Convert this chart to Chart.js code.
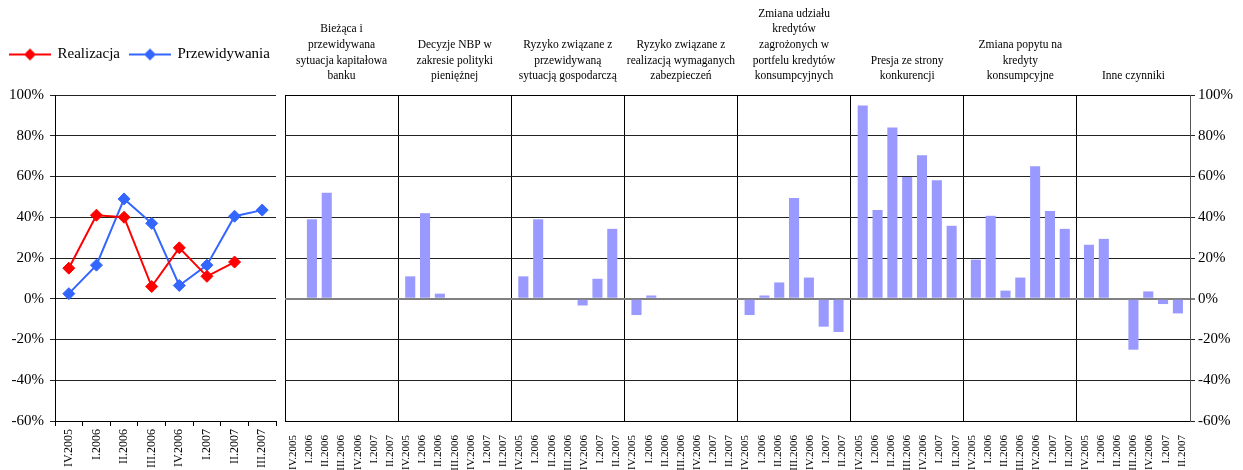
<!DOCTYPE html>
<html lang="pl">
<head>
<meta charset="utf-8">
<script src="https://cdn.jsdelivr.net/npm/chart.js@4.4.0/dist/chart.umd.min.js"></script>
<style>
  body { margin: 0; background: #fff; }
  #wrap { position: relative; width: 1243px; height: 470px; }
  canvas { position: absolute; top: 0; }
  #lineChart { left: 0; }
  #barChart { left: 283px; }
</style>
</head>
<body>
<div id="wrap">
  <canvas id="lineChart" width="283" height="470"></canvas>
  <canvas id="barChart" width="960" height="470"></canvas>
</div>
<script>
const serif = "'Liberation Serif', 'DejaVu Serif', serif";

// quarters of the survey
const quarters = ['IV.2005', 'I.2006', 'II.2006', 'III.2006', 'IV.2006', 'I.2007', 'II.2007', 'III.2007'];

// left chart - realised vs expected (%)
const realizacja = [15, 41, 40, 6, 25, 11, 18, null];
const przewidywania = [2.5, 16.5, 49, 37, 6.5, 16.5, 40.5, 43.5];

// right chart - factors
const factors = [
    ['Bieżąca i', 'przewidywana', 'sytuacja kapitałowa', 'banku'],
    ['Decyzje NBP w', 'zakresie polityki', 'pieniężnej'],
    ['Ryzyko związane z', 'przewidywaną', 'sytuacją gospodarczą'],
    ['Ryzyko związane z', 'realizacją wymaganych', 'zabezpieczeń'],
    ['Zmiana udziału', 'kredytów', 'zagrożonych w', 'portfelu kredytów', 'konsumpcyjnych'],
    ['Presja ze strony', 'konkurencji'],
    ['Zmiana popytu na', 'kredyty', 'konsumpcyjne'],
    ['Inne czynniki']
];
const barQuarters = quarters.slice(0, 7);

const kapital = [0, 39, 52, 0, 0, 0, 0];
const nbp = [11, 42, 2.5, 0, 0, 0, 0];
const ryzykoGosp = [11, 39, 0, 0, -3.3, 9.8, 34.3];
const ryzykoZab = [-8, 1.6, 0, 0, 0, 0, 0];
const udzialZagrozonych = [-8, 1.6, 8, 49.4, 10.4, -13.7, -16.3];
const konkurencja = [94.8, 43.6, 84, 59.7, 70.4, 58.2, 35.8];
const popyt = [19.2, 40.7, 4, 10.4, 65, 43.1, 34.3];
const inne = [26.5, 29.4, 0, -25, 3.6, -2.6, -7.2];

const factorValues = [kapital, nbp, ryzykoGosp, ryzykoZab, udzialZagrozonych, konkurencja, popyt, inne];

const yMin = -60, yMax = 100, yStep = 20;

function pct(v) { return v + '%'; }

// legend icon: line with a diamond in the middle
function legendIcon(color) {
    const c = document.createElement('canvas');
    c.width = 42; c.height = 14;
    const g = c.getContext('2d');
    g.strokeStyle = color; g.lineWidth = 2;
    g.beginPath(); g.moveTo(0, 7); g.lineTo(42, 7); g.stroke();
    g.fillStyle = color;
    g.beginPath(); g.moveTo(21, 1); g.lineTo(27, 7); g.lineTo(21, 13); g.lineTo(15, 7); g.closePath(); g.fill();
    return c;
}

// keep the legend on one row and leave room above the plot
const legendSpace = {
    id: 'legendSpace',
    beforeInit(chart) {
        const fit = chart.legend.fit;
        chart.legend.fit = function () {
            this.maxWidth = 300;
            fit.call(this);
            this.height = 58;
        };
    },
    afterLayout(chart) {
        chart.legend.right = 300;
    }
};

new Chart(document.getElementById('lineChart'), {
    type: 'line',
    data: {
        labels: quarters,
        datasets: [
            {
                label: 'Realizacja',
                data: realizacja,
                borderColor: '#ff0000',
                backgroundColor: '#ff0000',
                borderWidth: 2,
                pointStyle: 'rectRot',
                pointRadius: 6,
                pointBorderWidth: 1,
                tension: 0
            },
            {
                label: 'Przewidywania',
                data: przewidywania,
                borderColor: '#3366ff',
                backgroundColor: '#3366ff',
                borderWidth: 2,
                pointStyle: 'rectRot',
                pointRadius: 6,
                pointBorderWidth: 1,
                tension: 0
            }
        ]
    },
    options: {
        responsive: false,
        animation: false,
        layout: { padding: { top: 37, right: 7, left: 0, bottom: 0 } },
        plugins: {
            legend: {
                position: 'top',
                align: 'start',
                labels: {
                    usePointStyle: true,
                    pointStyleWidth: 40,
                    padding: 10,
                    color: '#000',
                    font: { family: serif, size: 15 },
                    generateLabels: chart => chart.data.datasets.map((ds, i) => ({
                        text: ds.label,
                        pointStyle: legendIcon(ds.borderColor),
                        datasetIndex: i,
                        hidden: false,
                        lineWidth: 0,
                        fontColor: '#000'
                    }))
                }
            },
            tooltip: { enabled: false }
        },
        scales: {
            x: {
                offset: true,
                grid: { offset: true, drawOnChartArea: false, tickLength: 5, color: '#000' },
                border: { color: '#000' },
                ticks: { minRotation: 90, maxRotation: 90, autoSkip: false, padding: 3, color: '#000', font: { family: serif, size: 12 } },
                afterFit(s) { s.height = 49; }
            },
            y: {
                min: yMin,
                max: yMax,
                ticks: { stepSize: yStep, callback: pct, padding: 6, color: '#000', font: { family: serif, size: 15 } },
                grid: { color: '#222', tickLength: 5 },
                border: { color: '#000' },
                afterFit(s) { s.width = 55; }
            }
        }
    },
    plugins: [legendSpace]
});

// one dataset per quarter, grouped by factor
const barDatasets = barQuarters.map((q, i) => ({
    label: q,
    data: factorValues.map(f => f[i]),
    backgroundColor: '#9999ff',
    borderWidth: 0,
    categoryPercentage: 0.917,
    barPercentage: 0.68
}));
const quarterLabels = factors.flatMap(() => barQuarters);

new Chart(document.getElementById('barChart'), {
    type: 'bar',
    data: {
        labels: factors,
        datasets: barDatasets
    },
    options: {
        responsive: false,
        animation: false,
        layout: { padding: { top: 0, right: 0, left: 2, bottom: 0 } },
        plugins: {
            legend: { display: false },
            tooltip: { enabled: false }
        },
        scales: {
            x: {
                position: 'top',
                offset: true,
                grid: { offset: true, drawTicks: false, color: '#000' },
                border: { color: '#000' },
                ticks: { maxRotation: 0, autoSkip: false, padding: 11, color: '#000', font: { family: serif, size: 11.5, lineHeight: 1.36 } },
                afterFit(s) { s.height = 95; }
            },
            q: {
                type: 'category',
                labels: quarterLabels,
                position: 'bottom',
                offset: true,
                grid: { display: false },
                border: { display: true, color: '#000' },
                ticks: { minRotation: 90, maxRotation: 90, autoSkip: false, padding: 6, color: '#000', font: { family: serif, size: 11 } },
                afterFit(s) { s.height = 49; }
            },
            y: {
                position: 'right',
                min: yMin,
                max: yMax,
                ticks: { stepSize: yStep, callback: pct, padding: 3, color: '#000', font: { family: serif, size: 15 } },
                grid: {
                    color: c => c.tick && c.tick.value === 0 ? '#808080' : '#222',
                    lineWidth: c => c.tick && c.tick.value === 0 ? 2 : 1,
                    tickLength: 5
                },
                border: { color: '#555' },
                afterFit(s) { s.width = 53; }
            }
        }
    }
});
</script>
</body>
</html>
